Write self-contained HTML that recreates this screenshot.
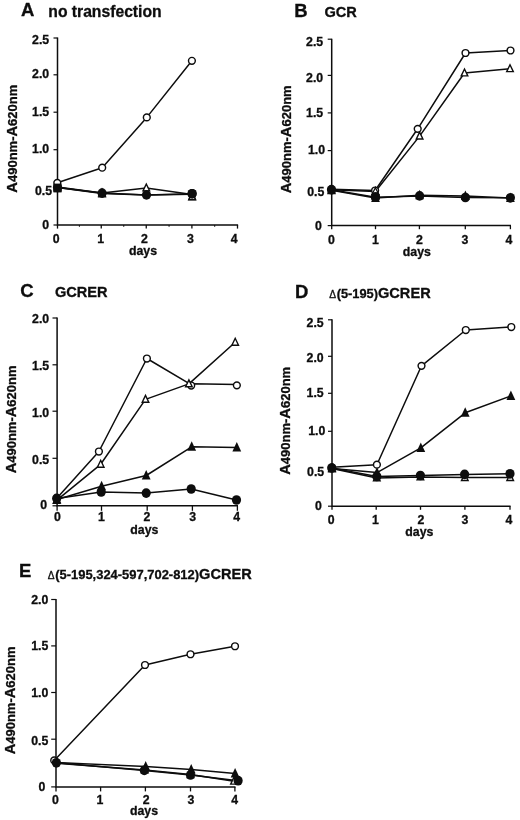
<!DOCTYPE html>
<html><head><meta charset="utf-8"><title>Figure</title>
<style>
html,body{margin:0;padding:0;background:#fff;}
body{width:520px;height:820px;overflow:hidden;font-family:"Liberation Sans",sans-serif;}
svg{display:block;will-change:transform;transform:translateZ(0);}
text{font-family:"Liberation Sans",sans-serif;font-weight:bold;fill:#0d0d0d;stroke:#0d0d0d;stroke-width:0.3px;}
.tk{font-size:12.3px;}
.yl{font-size:13.0px;}
.yl .big{font-size:14.7px;}
.letter{font-size:18.5px;stroke:#0d0d0d;stroke-width:0.3px;}
.t1{font-size:15.7px;}
.t2{font-size:14.6px;}
.t3{font-size:12.8px;}
.dl{font-weight:normal;font-size:10.2px;stroke-width:0.3px;}
</style></head>
<body>
<svg width="520" height="820" viewBox="0 0 520 820">
<rect width="520" height="820" fill="#fff"/>
<path d="M57.5,37.45 V225.0 H238.1" fill="none" stroke="#0d0d0d" stroke-width="1.5" stroke-linejoin="miter"/>
<line x1="53.5" y1="38.0" x2="57.5" y2="38.0" stroke="#0d0d0d" stroke-width="1.2"/>
<text x="49.2" y="44.0" text-anchor="end" class="tk">2.5</text>
<line x1="53.5" y1="74.8" x2="57.5" y2="74.8" stroke="#0d0d0d" stroke-width="1.2"/>
<text x="49.2" y="78.0" text-anchor="end" class="tk">2.0</text>
<line x1="53.5" y1="112.2" x2="57.5" y2="112.2" stroke="#0d0d0d" stroke-width="1.2"/>
<text x="49.2" y="115.8" text-anchor="end" class="tk">1.5</text>
<line x1="53.5" y1="149.7" x2="57.5" y2="149.7" stroke="#0d0d0d" stroke-width="1.2"/>
<text x="49.2" y="152.9" text-anchor="end" class="tk">1.0</text>
<line x1="53.5" y1="187" x2="57.5" y2="187" stroke="#0d0d0d" stroke-width="1.2"/>
<text x="52.0" y="194.5" text-anchor="end" class="tk">0.5</text>
<line x1="53.5" y1="225.0" x2="57.5" y2="225.0" stroke="#0d0d0d" stroke-width="1.2"/>
<text x="49.0" y="229.2" text-anchor="end" class="tk">0</text>
<line x1="57.5" y1="225.0" x2="57.5" y2="228.6" stroke="#0d0d0d" stroke-width="1.3"/>
<line x1="79.375" y1="225.0" x2="79.375" y2="226.8" stroke="#0d0d0d" stroke-width="1.0"/>
<line x1="101.25" y1="225.0" x2="101.25" y2="228.6" stroke="#0d0d0d" stroke-width="1.3"/>
<line x1="123.75" y1="225.0" x2="123.75" y2="226.8" stroke="#0d0d0d" stroke-width="1.0"/>
<line x1="146.25" y1="225.0" x2="146.25" y2="228.6" stroke="#0d0d0d" stroke-width="1.3"/>
<line x1="169.075" y1="225.0" x2="169.075" y2="226.8" stroke="#0d0d0d" stroke-width="1.0"/>
<line x1="191.9" y1="225.0" x2="191.9" y2="228.6" stroke="#0d0d0d" stroke-width="1.3"/>
<line x1="214.7" y1="225.0" x2="214.7" y2="226.8" stroke="#0d0d0d" stroke-width="1.0"/>
<line x1="237.5" y1="225.0" x2="237.5" y2="228.6" stroke="#0d0d0d" stroke-width="1.3"/>
<text x="56.1" y="242.9" text-anchor="middle" class="tk">0</text>
<text x="100.6" y="242.9" text-anchor="middle" class="tk">1</text>
<text x="144.3" y="242.9" text-anchor="middle" class="tk">2</text>
<text x="190.5" y="242.9" text-anchor="middle" class="tk">3</text>
<text x="234.2" y="242.9" text-anchor="middle" class="tk">4</text>
<text x="143" y="255.4" text-anchor="middle" class="tk">days</text>
<text transform="translate(17.2,138.7) rotate(-90)" text-anchor="middle" class="yl"><tspan class="big">A</tspan>490nm-<tspan class="big">A</tspan>620nm</text>
<text x="20.9" y="15.8" class="letter">A</text>
<text x="48.3" y="16.9" class="t1">no transfection</text>
<polyline points="57.50,187.00 102.00,193.00 146.30,188.00 192.20,194.60" fill="none" stroke="#0d0d0d" stroke-width="1.5" stroke-linejoin="round"/>
<polyline points="57.50,187.50 102.10,193.50 146.40,194.90 192.10,194.20" fill="none" stroke="#0d0d0d" stroke-width="1.5" stroke-linejoin="round"/>
<polyline points="57.50,187.50 102.10,193.10 146.50,194.90 192.10,193.80" fill="none" stroke="#0d0d0d" stroke-width="1.5" stroke-linejoin="round"/>
<polyline points="57.30,182.80 102.20,167.70 146.80,117.40 191.90,60.80" fill="none" stroke="#0d0d0d" stroke-width="1.5" stroke-linejoin="round"/>
<polygon points="54.20,189.90 60.80,189.90 57.50,183.00" fill="#fff" stroke="#0d0d0d" stroke-width="1.4" stroke-linejoin="miter"/>
<polygon points="98.70,195.90 105.30,195.90 102.00,189.00" fill="#fff" stroke="#0d0d0d" stroke-width="1.4" stroke-linejoin="miter"/>
<polygon points="143.00,190.90 149.60,190.90 146.30,184.00" fill="#fff" stroke="#0d0d0d" stroke-width="1.4" stroke-linejoin="miter"/>
<polygon points="53.10,191.49 61.90,191.49 57.50,181.99" fill="#0d0d0d"/>
<polygon points="97.70,197.49 106.50,197.49 102.10,187.99" fill="#0d0d0d"/>
<polygon points="187.70,200.49 196.50,200.49 192.10,190.99" fill="#0d0d0d"/>
<ellipse cx="57.5" cy="187.5" rx="4.6" ry="4.85" fill="#0d0d0d"/>
<ellipse cx="102.1" cy="193.1" rx="4.6" ry="4.85" fill="#0d0d0d"/>
<ellipse cx="146.5" cy="194.9" rx="4.6" ry="4.85" fill="#0d0d0d"/>
<ellipse cx="192.1" cy="193.8" rx="4.6" ry="4.85" fill="#0d0d0d"/>
<circle cx="57.3" cy="182.8" r="3.4" fill="#fff" stroke="#0d0d0d" stroke-width="1.45"/>
<circle cx="102.2" cy="167.7" r="3.4" fill="#fff" stroke="#0d0d0d" stroke-width="1.45"/>
<circle cx="146.8" cy="117.4" r="3.4" fill="#fff" stroke="#0d0d0d" stroke-width="1.45"/>
<circle cx="191.9" cy="60.8" r="3.4" fill="#fff" stroke="#0d0d0d" stroke-width="1.45"/>
<rect x="53.4" y="183.6" width="8.2" height="8.8" fill="#0d0d0d"/>
<polygon points="188.90,199.60 195.50,199.60 192.20,192.70" fill="#fff" stroke="#0d0d0d" stroke-width="1.4" stroke-linejoin="miter"/>
<ellipse cx="192.1" cy="193.8" rx="4.6" ry="4.85" fill="#0d0d0d"/>
<path d="M331.7,38.650000000000006 V225.6 H511.0" fill="none" stroke="#0d0d0d" stroke-width="1.5" stroke-linejoin="miter"/>
<line x1="327.7" y1="39.2" x2="331.7" y2="39.2" stroke="#0d0d0d" stroke-width="1.2"/>
<text x="323.2" y="45.7" text-anchor="end" class="tk">2.5</text>
<line x1="327.7" y1="75.4" x2="331.7" y2="75.4" stroke="#0d0d0d" stroke-width="1.2"/>
<text x="323.2" y="81.6" text-anchor="end" class="tk">2.0</text>
<line x1="327.7" y1="112.9" x2="331.7" y2="112.9" stroke="#0d0d0d" stroke-width="1.2"/>
<text x="323.2" y="116.7" text-anchor="end" class="tk">1.5</text>
<line x1="327.7" y1="150.6" x2="331.7" y2="150.6" stroke="#0d0d0d" stroke-width="1.2"/>
<text x="325.0" y="154.2" text-anchor="end" class="tk">1.0</text>
<line x1="327.7" y1="188.3" x2="331.7" y2="188.3" stroke="#0d0d0d" stroke-width="1.2"/>
<text x="324.4" y="195.8" text-anchor="end" class="tk">0.5</text>
<line x1="327.7" y1="225.6" x2="331.7" y2="225.6" stroke="#0d0d0d" stroke-width="1.2"/>
<text x="321.8" y="229.8" text-anchor="end" class="tk">0</text>
<line x1="331.7" y1="225.6" x2="331.7" y2="229.2" stroke="#0d0d0d" stroke-width="1.3"/>
<line x1="375.5" y1="225.6" x2="375.5" y2="229.2" stroke="#0d0d0d" stroke-width="1.3"/>
<line x1="419.4" y1="225.6" x2="419.4" y2="229.2" stroke="#0d0d0d" stroke-width="1.3"/>
<line x1="465.3" y1="225.6" x2="465.3" y2="229.2" stroke="#0d0d0d" stroke-width="1.3"/>
<line x1="510.4" y1="225.6" x2="510.4" y2="229.2" stroke="#0d0d0d" stroke-width="1.3"/>
<text x="331.4" y="243.9" text-anchor="middle" class="tk">0</text>
<text x="375.3" y="243.9" text-anchor="middle" class="tk">1</text>
<text x="419.5" y="243.9" text-anchor="middle" class="tk">2</text>
<text x="464.8" y="243.9" text-anchor="middle" class="tk">3</text>
<text x="508.9" y="243.9" text-anchor="middle" class="tk">4</text>
<text x="416.8" y="256.0" text-anchor="middle" class="tk">days</text>
<text transform="translate(290.8,139.3) rotate(-90)" text-anchor="middle" class="yl"><tspan class="big">A</tspan>490nm-<tspan class="big">A</tspan>620nm</text>
<text x="294.3" y="16.6" class="letter">B</text>
<text x="324.4" y="16.9" class="t2">GCR</text>
<polyline points="331.50,189.80 375.40,191.50 419.60,136.10 464.50,73.00 510.00,68.75" fill="none" stroke="#0d0d0d" stroke-width="1.5" stroke-linejoin="round"/>
<polyline points="331.50,189.30 375.10,190.50 417.70,128.80 465.50,53.00 510.50,50.50" fill="none" stroke="#0d0d0d" stroke-width="1.5" stroke-linejoin="round"/>
<polyline points="331.50,190.20 375.50,197.90 419.60,195.20 465.40,195.90 510.40,198.00" fill="none" stroke="#0d0d0d" stroke-width="1.5" stroke-linejoin="round"/>
<polyline points="331.50,189.70 375.50,197.20 419.60,195.90 465.40,197.50 510.40,197.80" fill="none" stroke="#0d0d0d" stroke-width="1.5" stroke-linejoin="round"/>
<polygon points="328.20,192.70 334.80,192.70 331.50,185.80" fill="#fff" stroke="#0d0d0d" stroke-width="1.4" stroke-linejoin="miter"/>
<polygon points="372.10,194.40 378.70,194.40 375.40,187.50" fill="#fff" stroke="#0d0d0d" stroke-width="1.4" stroke-linejoin="miter"/>
<polygon points="416.30,139.00 422.90,139.00 419.60,132.10" fill="#fff" stroke="#0d0d0d" stroke-width="1.4" stroke-linejoin="miter"/>
<polygon points="461.20,75.90 467.80,75.90 464.50,69.00" fill="#fff" stroke="#0d0d0d" stroke-width="1.4" stroke-linejoin="miter"/>
<polygon points="506.70,71.65 513.30,71.65 510.00,64.75" fill="#fff" stroke="#0d0d0d" stroke-width="1.4" stroke-linejoin="miter"/>
<circle cx="331.5" cy="189.3" r="3.4" fill="#fff" stroke="#0d0d0d" stroke-width="1.45"/>
<circle cx="375.1" cy="190.5" r="3.4" fill="#fff" stroke="#0d0d0d" stroke-width="1.45"/>
<circle cx="417.7" cy="128.8" r="3.4" fill="#fff" stroke="#0d0d0d" stroke-width="1.45"/>
<circle cx="465.5" cy="53.0" r="3.4" fill="#fff" stroke="#0d0d0d" stroke-width="1.45"/>
<circle cx="510.5" cy="50.5" r="3.4" fill="#fff" stroke="#0d0d0d" stroke-width="1.45"/>
<polygon points="327.10,194.19 335.90,194.19 331.50,184.69" fill="#0d0d0d"/>
<polygon points="371.10,201.89 379.90,201.89 375.50,192.39" fill="#0d0d0d"/>
<polygon points="415.20,199.19 424.00,199.19 419.60,189.69" fill="#0d0d0d"/>
<polygon points="461.00,199.89 469.80,199.89 465.40,190.39" fill="#0d0d0d"/>
<polygon points="506.00,201.99 514.80,201.99 510.40,192.49" fill="#0d0d0d"/>
<ellipse cx="331.5" cy="189.7" rx="4.6" ry="4.85" fill="#0d0d0d"/>
<ellipse cx="375.5" cy="197.2" rx="4.6" ry="4.85" fill="#0d0d0d"/>
<ellipse cx="419.6" cy="195.9" rx="4.6" ry="4.85" fill="#0d0d0d"/>
<ellipse cx="465.4" cy="197.5" rx="4.6" ry="4.85" fill="#0d0d0d"/>
<ellipse cx="510.4" cy="197.8" rx="4.6" ry="4.85" fill="#0d0d0d"/>
<polygon points="372.05,194.31 378.75,194.31 375.40,187.61" fill="none" stroke="#0d0d0d" stroke-width="1.25" stroke-linejoin="miter"/>
<ellipse cx="375.5" cy="197.2" rx="4.6" ry="4.85" fill="#0d0d0d"/>
<path d="M57.1,317.45 V505.8 H238.0" fill="none" stroke="#0d0d0d" stroke-width="1.5" stroke-linejoin="miter"/>
<line x1="52.5" y1="318.0" x2="57.1" y2="318.0" stroke="#0d0d0d" stroke-width="1.2"/>
<text x="49.2" y="322.7" text-anchor="end" class="tk">2.0</text>
<line x1="52.5" y1="364.8" x2="57.1" y2="364.8" stroke="#0d0d0d" stroke-width="1.2"/>
<text x="49.2" y="369.9" text-anchor="end" class="tk">1.5</text>
<line x1="52.5" y1="411.2" x2="57.1" y2="411.2" stroke="#0d0d0d" stroke-width="1.2"/>
<text x="49.2" y="417.0" text-anchor="end" class="tk">1.0</text>
<line x1="52.5" y1="458.3" x2="57.1" y2="458.3" stroke="#0d0d0d" stroke-width="1.2"/>
<text x="49.2" y="463.8" text-anchor="end" class="tk">0.5</text>
<line x1="52.5" y1="505.8" x2="57.1" y2="505.8" stroke="#0d0d0d" stroke-width="1.2"/>
<text x="47.2" y="509.4" text-anchor="end" class="tk">0</text>
<line x1="57.1" y1="505.8" x2="57.1" y2="510.8" stroke="#0d0d0d" stroke-width="1.3"/>
<line x1="101.5" y1="505.8" x2="101.5" y2="510.8" stroke="#0d0d0d" stroke-width="1.3"/>
<line x1="147.2" y1="505.8" x2="147.2" y2="510.8" stroke="#0d0d0d" stroke-width="1.3"/>
<line x1="192.4" y1="505.8" x2="192.4" y2="510.8" stroke="#0d0d0d" stroke-width="1.3"/>
<line x1="237.4" y1="505.8" x2="237.4" y2="510.8" stroke="#0d0d0d" stroke-width="1.3"/>
<text x="57.4" y="521.3" text-anchor="middle" class="tk">0</text>
<text x="101.3" y="521.3" text-anchor="middle" class="tk">1</text>
<text x="147.0" y="521.3" text-anchor="middle" class="tk">2</text>
<text x="192.7" y="521.3" text-anchor="middle" class="tk">3</text>
<text x="236.6" y="521.3" text-anchor="middle" class="tk">4</text>
<text x="144.3" y="534.4" text-anchor="middle" class="tk">days</text>
<text transform="translate(15.8,419.4) rotate(-90)" text-anchor="middle" class="yl"><tspan class="big">A</tspan>490nm-<tspan class="big">A</tspan>620nm</text>
<text x="20.2" y="297.0" class="letter">C</text>
<text x="54.9" y="297.2" class="t2">GCRER</text>
<polyline points="56.80,498.20 98.90,451.50 146.90,358.50 191.00,384.70 191.40,383.80 236.85,384.50" fill="none" stroke="#0d0d0d" stroke-width="1.5" stroke-linejoin="round"/>
<polyline points="56.60,500.40 100.70,464.30 145.50,399.40 188.90,383.90 235.20,342.30" fill="none" stroke="#0d0d0d" stroke-width="1.5" stroke-linejoin="round"/>
<polyline points="57.00,499.50 101.60,486.20 146.20,475.50 191.70,446.80 236.80,447.60" fill="none" stroke="#0d0d0d" stroke-width="1.5" stroke-linejoin="round"/>
<polyline points="56.70,498.40 101.20,492.00 146.20,493.10 191.20,489.00 236.50,500.00" fill="none" stroke="#0d0d0d" stroke-width="1.5" stroke-linejoin="round"/>
<circle cx="56.8" cy="498.2" r="3.4" fill="#fff" stroke="#0d0d0d" stroke-width="1.45"/>
<circle cx="98.9" cy="451.5" r="3.4" fill="#fff" stroke="#0d0d0d" stroke-width="1.45"/>
<circle cx="146.9" cy="358.5" r="3.4" fill="#fff" stroke="#0d0d0d" stroke-width="1.45"/>
<circle cx="191.2" cy="385.5" r="3.4" fill="#fff" stroke="#0d0d0d" stroke-width="1.45"/>
<circle cx="236.85" cy="385.35" r="3.4" fill="#fff" stroke="#0d0d0d" stroke-width="1.45"/>
<polygon points="53.30,503.30 59.90,503.30 56.60,496.40" fill="#fff" stroke="#0d0d0d" stroke-width="1.4" stroke-linejoin="miter"/>
<polygon points="97.40,467.20 104.00,467.20 100.70,460.30" fill="#fff" stroke="#0d0d0d" stroke-width="1.4" stroke-linejoin="miter"/>
<polygon points="142.20,402.30 148.80,402.30 145.50,395.40" fill="#fff" stroke="#0d0d0d" stroke-width="1.4" stroke-linejoin="miter"/>
<polygon points="185.60,386.80 192.20,386.80 188.90,379.90" fill="#fff" stroke="#0d0d0d" stroke-width="1.4" stroke-linejoin="miter"/>
<polygon points="231.90,345.20 238.50,345.20 235.20,338.30" fill="#fff" stroke="#0d0d0d" stroke-width="1.4" stroke-linejoin="miter"/>
<polygon points="52.60,503.49 61.40,503.49 57.00,493.99" fill="#0d0d0d"/>
<polygon points="97.20,490.19 106.00,490.19 101.60,480.69" fill="#0d0d0d"/>
<polygon points="141.80,479.49 150.60,479.49 146.20,469.99" fill="#0d0d0d"/>
<polygon points="187.30,450.79 196.10,450.79 191.70,441.29" fill="#0d0d0d"/>
<polygon points="232.40,451.59 241.20,451.59 236.80,442.09" fill="#0d0d0d"/>
<ellipse cx="56.7" cy="498.4" rx="4.6" ry="4.85" fill="#0d0d0d"/>
<ellipse cx="101.2" cy="492.0" rx="4.6" ry="4.85" fill="#0d0d0d"/>
<ellipse cx="146.2" cy="493.1" rx="4.6" ry="4.85" fill="#0d0d0d"/>
<ellipse cx="191.2" cy="489.0" rx="4.6" ry="4.85" fill="#0d0d0d"/>
<ellipse cx="236.5" cy="500.0" rx="4.6" ry="4.85" fill="#0d0d0d"/>
<path d="M332.0,319.25 V506.2 H510.6" fill="none" stroke="#0d0d0d" stroke-width="1.5" stroke-linejoin="miter"/>
<line x1="328.0" y1="319.8" x2="332.0" y2="319.8" stroke="#0d0d0d" stroke-width="1.2"/>
<text x="323.7" y="327.0" text-anchor="end" class="tk">2.5</text>
<line x1="328.0" y1="356.3" x2="332.0" y2="356.3" stroke="#0d0d0d" stroke-width="1.2"/>
<text x="323.7" y="361.8" text-anchor="end" class="tk">2.0</text>
<line x1="328.0" y1="393.3" x2="332.0" y2="393.3" stroke="#0d0d0d" stroke-width="1.2"/>
<text x="323.7" y="397.4" text-anchor="end" class="tk">1.5</text>
<line x1="328.0" y1="431.3" x2="332.0" y2="431.3" stroke="#0d0d0d" stroke-width="1.2"/>
<text x="325.3" y="434.8" text-anchor="end" class="tk">1.0</text>
<line x1="328.0" y1="468.6" x2="332.0" y2="468.6" stroke="#0d0d0d" stroke-width="1.2"/>
<text x="324.2" y="475.9" text-anchor="end" class="tk">0.5</text>
<line x1="328.0" y1="506.2" x2="332.0" y2="506.2" stroke="#0d0d0d" stroke-width="1.2"/>
<text x="321.8" y="510.0" text-anchor="end" class="tk">0</text>
<line x1="332.0" y1="506.2" x2="332.0" y2="509.8" stroke="#0d0d0d" stroke-width="1.3"/>
<line x1="376.2" y1="506.2" x2="376.2" y2="509.8" stroke="#0d0d0d" stroke-width="1.3"/>
<line x1="420.5" y1="506.2" x2="420.5" y2="509.8" stroke="#0d0d0d" stroke-width="1.3"/>
<line x1="464.9" y1="506.2" x2="464.9" y2="509.8" stroke="#0d0d0d" stroke-width="1.3"/>
<line x1="510.0" y1="506.2" x2="510.0" y2="509.8" stroke="#0d0d0d" stroke-width="1.3"/>
<text x="331.1" y="523.7" text-anchor="middle" class="tk">0</text>
<text x="375.4" y="523.7" text-anchor="middle" class="tk">1</text>
<text x="421.0" y="523.7" text-anchor="middle" class="tk">2</text>
<text x="465.0" y="523.7" text-anchor="middle" class="tk">3</text>
<text x="508.9" y="523.7" text-anchor="middle" class="tk">4</text>
<text x="419.3" y="536.0" text-anchor="middle" class="tk">days</text>
<text transform="translate(290.3,420.8) rotate(-90)" text-anchor="middle" class="yl"><tspan class="big">A</tspan>490nm-<tspan class="big">A</tspan>620nm</text>
<text x="294.9" y="297.6" class="letter">D</text>
<text x="329.3" y="298.0" class="t3"><tspan class="dl">&#916;</tspan><tspan dx="0.6">(5-195)</tspan><tspan class="t2">GCRER</tspan></text>
<polyline points="332.00,467.30 376.90,464.70 421.50,365.80 465.80,330.00 511.30,327.00" fill="none" stroke="#0d0d0d" stroke-width="1.5" stroke-linejoin="round"/>
<polyline points="332.00,468.50 376.80,478.00 420.40,477.00 464.80,477.60 510.20,477.60" fill="none" stroke="#0d0d0d" stroke-width="1.5" stroke-linejoin="round"/>
<polyline points="331.70,468.00 376.80,476.50 420.40,475.50 464.60,474.40 510.00,473.80" fill="none" stroke="#0d0d0d" stroke-width="1.5" stroke-linejoin="round"/>
<polyline points="332.00,468.40 377.00,472.60 420.80,447.90 465.20,412.80 510.90,395.90" fill="none" stroke="#0d0d0d" stroke-width="1.5" stroke-linejoin="round"/>
<circle cx="332.0" cy="467.3" r="3.4" fill="#fff" stroke="#0d0d0d" stroke-width="1.45"/>
<circle cx="376.9" cy="464.7" r="3.4" fill="#fff" stroke="#0d0d0d" stroke-width="1.45"/>
<circle cx="421.5" cy="365.8" r="3.4" fill="#fff" stroke="#0d0d0d" stroke-width="1.45"/>
<circle cx="465.8" cy="330.0" r="3.4" fill="#fff" stroke="#0d0d0d" stroke-width="1.45"/>
<circle cx="511.3" cy="327.0" r="3.4" fill="#fff" stroke="#0d0d0d" stroke-width="1.45"/>
<polygon points="328.70,471.40 335.30,471.40 332.00,464.50" fill="#fff" stroke="#0d0d0d" stroke-width="1.4" stroke-linejoin="miter"/>
<polygon points="373.50,480.90 380.10,480.90 376.80,474.00" fill="#fff" stroke="#0d0d0d" stroke-width="1.4" stroke-linejoin="miter"/>
<polygon points="417.10,479.90 423.70,479.90 420.40,473.00" fill="#fff" stroke="#0d0d0d" stroke-width="1.4" stroke-linejoin="miter"/>
<polygon points="461.50,480.50 468.10,480.50 464.80,473.60" fill="#fff" stroke="#0d0d0d" stroke-width="1.4" stroke-linejoin="miter"/>
<polygon points="506.90,480.50 513.50,480.50 510.20,473.60" fill="#fff" stroke="#0d0d0d" stroke-width="1.4" stroke-linejoin="miter"/>
<ellipse cx="331.7" cy="468.0" rx="4.6" ry="4.85" fill="#0d0d0d"/>
<ellipse cx="376.8" cy="476.5" rx="4.6" ry="4.85" fill="#0d0d0d"/>
<ellipse cx="420.4" cy="475.5" rx="4.6" ry="4.85" fill="#0d0d0d"/>
<ellipse cx="464.6" cy="474.4" rx="4.6" ry="4.85" fill="#0d0d0d"/>
<ellipse cx="510.0" cy="473.8" rx="4.6" ry="4.85" fill="#0d0d0d"/>
<polygon points="327.60,472.39 336.40,472.39 332.00,462.89" fill="#0d0d0d"/>
<polygon points="372.60,476.59 381.40,476.59 377.00,467.09" fill="#0d0d0d"/>
<polygon points="416.40,451.89 425.20,451.89 420.80,442.39" fill="#0d0d0d"/>
<polygon points="460.80,416.79 469.60,416.79 465.20,407.29" fill="#0d0d0d"/>
<polygon points="506.50,399.89 515.30,399.89 510.90,390.39" fill="#0d0d0d"/>
<path d="M56.0,598.95 V786.9 H235.5" fill="none" stroke="#0d0d0d" stroke-width="1.5" stroke-linejoin="miter"/>
<line x1="51.2" y1="599.5" x2="56.0" y2="599.5" stroke="#0d0d0d" stroke-width="1.2"/>
<text x="48.3" y="604.4" text-anchor="end" class="tk">2.0</text>
<line x1="51.2" y1="645.9" x2="56.0" y2="645.9" stroke="#0d0d0d" stroke-width="1.2"/>
<text x="48.3" y="650.2" text-anchor="end" class="tk">1.5</text>
<line x1="51.2" y1="692.5" x2="56.0" y2="692.5" stroke="#0d0d0d" stroke-width="1.2"/>
<text x="48.3" y="697.3" text-anchor="end" class="tk">1.0</text>
<line x1="51.2" y1="739.2" x2="56.0" y2="739.2" stroke="#0d0d0d" stroke-width="1.2"/>
<text x="48.3" y="744.9" text-anchor="end" class="tk">0.5</text>
<line x1="51.2" y1="786.9" x2="56.0" y2="786.9" stroke="#0d0d0d" stroke-width="1.2"/>
<text x="45.4" y="791.0" text-anchor="end" class="tk">0</text>
<line x1="56.0" y1="786.9" x2="56.0" y2="791.4" stroke="#0d0d0d" stroke-width="1.3"/>
<line x1="100.6" y1="786.9" x2="100.6" y2="791.4" stroke="#0d0d0d" stroke-width="1.3"/>
<line x1="145.4" y1="786.9" x2="145.4" y2="791.4" stroke="#0d0d0d" stroke-width="1.3"/>
<line x1="190.5" y1="786.9" x2="190.5" y2="791.4" stroke="#0d0d0d" stroke-width="1.3"/>
<line x1="234.9" y1="786.9" x2="234.9" y2="791.4" stroke="#0d0d0d" stroke-width="1.3"/>
<text x="55.4" y="803.7" text-anchor="middle" class="tk">0</text>
<text x="100.0" y="803.7" text-anchor="middle" class="tk">1</text>
<text x="146.2" y="803.7" text-anchor="middle" class="tk">2</text>
<text x="191.0" y="803.7" text-anchor="middle" class="tk">3</text>
<text x="234.7" y="803.7" text-anchor="middle" class="tk">4</text>
<text x="144.0" y="815.4" text-anchor="middle" class="tk">days</text>
<text transform="translate(15.3,700.4) rotate(-90)" text-anchor="middle" class="yl"><tspan class="big">A</tspan>490nm-<tspan class="big">A</tspan>620nm</text>
<text x="18.9" y="577.3" class="letter">E</text>
<text x="47.8" y="579.0" class="t3"><tspan class="dl">&#916;</tspan><tspan dx="0.6" style="font-size:12.95px">(5-195,324-597,702-812)</tspan><tspan class="t2">GCRER</tspan></text>
<polyline points="54.20,760.40 145.00,665.00 190.50,654.25 235.00,646.25" fill="none" stroke="#0d0d0d" stroke-width="1.5" stroke-linejoin="round"/>
<polyline points="56.40,763.20 144.80,770.00 190.50,774.60 234.00,781.20" fill="none" stroke="#0d0d0d" stroke-width="1.5" stroke-linejoin="round"/>
<polyline points="56.40,762.60 145.70,766.60 191.20,769.40 235.10,773.50" fill="none" stroke="#0d0d0d" stroke-width="1.5" stroke-linejoin="round"/>
<polyline points="56.40,762.80 144.30,770.40 190.50,775.00 238.10,780.70" fill="none" stroke="#0d0d0d" stroke-width="1.5" stroke-linejoin="round"/>
<circle cx="54.2" cy="760.4" r="3.4" fill="#fff" stroke="#0d0d0d" stroke-width="1.45"/>
<circle cx="145.0" cy="665.0" r="3.4" fill="#fff" stroke="#0d0d0d" stroke-width="1.45"/>
<circle cx="190.5" cy="654.25" r="3.4" fill="#fff" stroke="#0d0d0d" stroke-width="1.45"/>
<circle cx="235.0" cy="646.25" r="3.4" fill="#fff" stroke="#0d0d0d" stroke-width="1.45"/>
<polygon points="141.50,772.90 148.10,772.90 144.80,766.00" fill="#fff" stroke="#0d0d0d" stroke-width="1.4" stroke-linejoin="miter"/>
<polygon points="187.20,777.50 193.80,777.50 190.50,770.60" fill="#fff" stroke="#0d0d0d" stroke-width="1.4" stroke-linejoin="miter"/>
<polygon points="230.70,784.10 237.30,784.10 234.00,777.20" fill="#fff" stroke="#0d0d0d" stroke-width="1.4" stroke-linejoin="miter"/>
<polygon points="141.30,770.59 150.10,770.59 145.70,761.09" fill="#0d0d0d"/>
<polygon points="186.80,773.39 195.60,773.39 191.20,763.89" fill="#0d0d0d"/>
<polygon points="230.70,777.49 239.50,777.49 235.10,767.99" fill="#0d0d0d"/>
<ellipse cx="56.4" cy="762.8" rx="4.6" ry="4.85" fill="#0d0d0d"/>
<ellipse cx="144.3" cy="770.4" rx="4.6" ry="4.85" fill="#0d0d0d"/>
<ellipse cx="190.5" cy="775.0" rx="4.6" ry="4.85" fill="#0d0d0d"/>
<ellipse cx="238.1" cy="780.7" rx="4.6" ry="4.85" fill="#0d0d0d"/>
</svg>
</body></html>
